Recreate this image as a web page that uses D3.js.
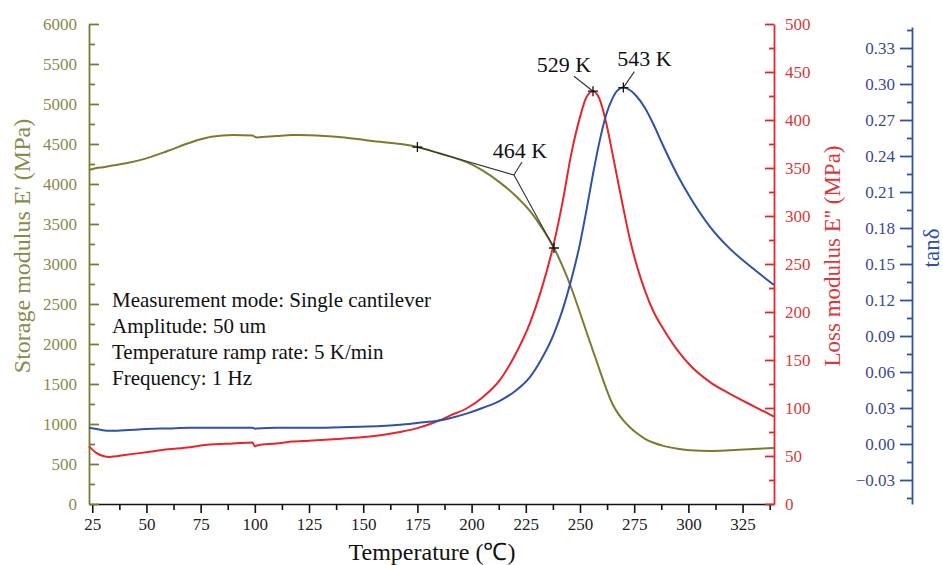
<!DOCTYPE html>
<html>
<head>
<meta charset="utf-8">
<script src="https://cdn.jsdelivr.net/npm/d3@7"></script>
<style>
  body { margin: 0; background: #fff; }
  svg text { font-family: "Liberation Serif", "Times New Roman", serif; }
</style>
</head>
<body>
<div id="chart"></div>
<script>
// temperature in degrees C, shared by the three curves
var tempC = [23.5, 27, 30, 33, 40, 50, 60, 70, 75, 80, 90, 99, 100, 101, 110, 117, 125, 140, 152, 167,
  175, 185, 190, 198, 205, 213, 220, 227, 232, 238, 242, 246, 250, 253, 256, 259, 262, 265, 267, 270,
  273, 276, 280, 284, 288, 295, 301, 310, 319, 330, 339.5];
// storage modulus E' (MPa)
var storage = [4175, 4200, 4210, 4225, 4255, 4320, 4415, 4515, 4560, 4592, 4612, 4605, 4590, 4582, 4600, 4612, 4610, 4585, 4545, 4500,
  4462, 4385, 4345, 4270, 4170, 4020, 3860, 3660, 3470, 3200, 2970, 2700, 2390, 2150, 1915, 1680, 1450, 1250, 1155, 1045,
  960, 890, 815, 765, 730, 692, 672, 664, 672, 688, 700];
// loss modulus E'' (MPa)
var loss = [60, 53, 50, 49, 51, 54, 57, 59, 61, 62, 63, 64, 60, 61, 63, 65, 66, 68, 70, 75,
  79, 87, 92, 100, 111, 129, 155, 189, 222, 272, 315, 365, 403, 424, 430, 422, 398, 365, 342, 308,
  276, 250, 222, 200, 184, 160, 144, 127, 115, 102, 91];
// tan delta
var tanDelta = [0.0135, 0.0125, 0.0115, 0.011, 0.0115, 0.0125, 0.013, 0.0135, 0.0135, 0.0135, 0.0135, 0.0135, 0.0128, 0.013, 0.0135, 0.0135, 0.0135, 0.014, 0.0145, 0.016,
  0.0175, 0.0195, 0.0215, 0.0255, 0.030, 0.036, 0.044, 0.056, 0.07, 0.092, 0.112, 0.137, 0.167, 0.195, 0.225, 0.252, 0.274, 0.288, 0.294, 0.297,
  0.295, 0.29, 0.28, 0.266, 0.25, 0.224, 0.205, 0.181, 0.163, 0.146, 0.1325];

// marked points: onset (two tangent points on E'), E'' peak, tan delta peak
var onsetT = [175, 238], onsetE = [4462, 3200];
var lossPeakT = 256, lossPeak = 430;
var tanPeakT = 270, tanPeak = 0.297;
var onsetLabel = "464 K", lossLabel = "529 K", tanLabel = "543 K";

var notes = ["Measurement mode: Single cantilever", "Amplitude: 50 um",
  "Temperature ramp rate: 5 K/min", "Frequency: 1 Hz"];

var serif = '"Liberation Serif", "Times New Roman", serif';
var olive = "#7b7b30", oliveText = "#8a8a4c";
var red = "#e5262c", redText = "#d9393a";
var blue = "#2f52a6", blueText = "#3a4b8e";

var W = 943, H = 565;
var plot = {left: 89, right: 774, top: 24, bottom: 504};

var svg = d3.select("#chart").append("svg")
  .attr("width", W)
  .attr("height", H)
  .style("font-family", serif);

var x = d3.scaleLinear().domain([23.5, 339.5]).range([plot.left, plot.right]);
var yS = d3.scaleLinear().domain([0, 6000]).range([plot.bottom, plot.top]);
var yL = d3.scaleLinear().domain([0, 500]).range([plot.bottom, plot.top]);
var yT = d3.scaleLinear().domain([-0.05, 0.3475]).range([plot.bottom, 27]);

function styleAxis(g, lineColor, textColor){
  g.attr("font-family", null).attr("font-size", null);
  g.selectAll("g").attr("font-family", null).attr("font-size", null);
  g.selectAll("line, path").attr("stroke", lineColor).attr("stroke-width", 1.8);
  g.selectAll("text")
    .attr("fill", textColor)
    .style("font-family", serif)
    .style("font-size", "17px");
}
function noLabels(g){
  g.select(".domain").remove();
  g.selectAll("text").remove();
}

// ---- axes ----
// bottom
var gx = svg.append("g")
  .attr("transform", "translate(0," + plot.bottom + ")");
gx.append("g")
  .call(d3.axisBottom(x).tickValues(d3.range(37.5, 340, 25)).tickSize(6).tickSizeOuter(0))
  .call(noLabels);
gx.append("g")
  .call(d3.axisBottom(x).tickValues(d3.range(25, 326, 25)).tickSize(9).tickSizeOuter(0).tickPadding(5));
styleAxis(gx, "#111", "#222");
gx.selectAll("line, path").attr("stroke-width", 1.6);

svg.append("text")
  .attr("x", 432).attr("y", 560)
  .attr("text-anchor", "middle")
  .style("font-size", "24px")
  .attr("fill", "#111")
  .text("Temperature (℃)");

// left: storage
var gS = svg.append("g").attr("transform", "translate(" + plot.left + ",0)");
gS.append("g")
  .call(d3.axisLeft(yS).tickValues(d3.range(250, 6000, 500)).tickSize(-6).tickSizeOuter(0))
  .call(noLabels);
gS.append("g")
  .call(d3.axisLeft(yS).tickValues(d3.range(0, 6001, 500)).tickSize(-10).tickSizeOuter(0).tickPadding(12)
    .tickFormat(d3.format("d")));
styleAxis(gS, olive, oliveText);

svg.append("text")
  .attr("transform", "translate(30," + 246 + ") rotate(-90)")
  .attr("text-anchor", "middle")
  .style("font-size", "24px")
  .attr("fill", oliveText)
  .text("Storage modulus E' (MPa)");

// right: loss
var gL = svg.append("g").attr("transform", "translate(" + plot.right + ",0)");
gL.append("g")
  .call(d3.axisRight(yL).tickValues(d3.range(25, 500, 50)).tickSize(-5).tickSizeOuter(0))
  .call(noLabels);
gL.append("g")
  .call(d3.axisRight(yL).tickValues(d3.range(0, 501, 50)).tickSize(-9).tickSizeOuter(0).tickPadding(11));
styleAxis(gL, red, redText);

svg.append("text")
  .attr("transform", "translate(840," + 256 + ") rotate(-90)")
  .attr("text-anchor", "middle")
  .style("font-size", "23px")
  .attr("fill", redText)
  .text("Loss modulus E'' (MPa)");

// far right: tan delta
var gT = svg.append("g").attr("transform", "translate(912,0)");
gT.append("g")
  .call(d3.axisLeft(yT).tickValues(d3.range(-0.045, 0.35, 0.03)).tickSize(5).tickSizeOuter(0))
  .call(noLabels);
gT.append("g")
  .call(d3.axisLeft(yT).tickValues(d3.range(-0.03, 0.331, 0.03)).tickSize(12).tickSizeOuter(0).tickPadding(5)
    .tickFormat(d3.format(".2f")));
styleAxis(gT, blue, blueText);

svg.append("text")
  .attr("transform", "translate(939," + 248 + ") rotate(-90)")
  .attr("text-anchor", "middle")
  .style("font-size", "23px")
  .attr("fill", blue)
  .text("tanδ");

// ---- curves ----
function drawCurve(values, yScale, color){
  var line = d3.line()
    .curve(d3.curveMonotoneX)
    .x(function(d, i){ return x(tempC[i]); })
    .y(function(d){ return yScale(d); });
  svg.append("path")
    .datum(values)
    .attr("fill", "none")
    .attr("stroke", color)
    .attr("stroke-width", 2)
    .attr("d", line);
}
drawCurve(storage, yS, olive);
drawCurve(loss, yL, red);
drawCurve(tanDelta, yT, blue);

// ---- markers and labels ----
function plus(px, py){
  svg.append("path")
    .attr("d", "M" + (px - 5) + "," + py + "H" + (px + 5) + "M" + px + "," + (py - 5) + "V" + (py + 5))
    .attr("stroke", "#111").attr("stroke-width", 1.3);
}
function leader(pts){
  svg.append("path")
    .attr("d", d3.line()(pts))
    .attr("fill", "none")
    .attr("stroke", "#333").attr("stroke-width", 1.1);
}
function label(px, py, txt){
  svg.append("text")
    .attr("x", px).attr("y", py)
    .attr("text-anchor", "middle")
    .style("font-size", "22px")
    .attr("fill", "#111")
    .text(txt);
}

var p1 = [x(onsetT[0]), yS(onsetE[0])], p2 = [x(onsetT[1]), yS(onsetE[1])];
var knee = [p2[0] - 40, p1[1] + 28];
leader([p1, knee, p2]);
leader([knee, [knee[0] + 8, knee[1] - 13]]);
plus(p1[0], p1[1]); plus(p2[0], p2[1]);
label(knee[0] + 6, knee[1] - 17, onsetLabel);

var pl = [x(lossPeakT), yL(lossPeak)];
leader([pl, [pl[0] - 19, pl[1] - 15]]);
plus(pl[0], pl[1]);
label(pl[0] - 29, pl[1] - 19, lossLabel);

var pt = [x(tanPeakT), yT(tanPeak)];
leader([pt, [pt[0] + 11, pt[1] - 16]]);
plus(pt[0], pt[1]);
label(pt[0] + 21, pt[1] - 22, tanLabel);

// ---- measurement notes ----
svg.append("g").selectAll("text")
  .data(notes)
  .enter().append("text")
  .attr("x", 112)
  .attr("y", function(d, i){ return 307 + i * 26; })
  .style("font-size", "21px")
  .attr("fill", "#111")
  .text(function(d){ return d; });
</script>
</body>
</html>
